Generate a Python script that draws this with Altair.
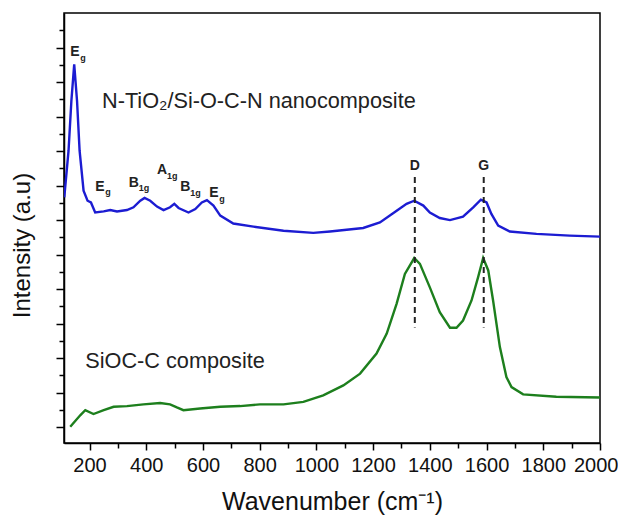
import altair as alt
import pandas as pd

# ---- data ----
blue_wn = [111, 126, 136, 146, 156, 165, 179, 193, 205, 220, 250, 273, 297, 332, 355, 379, 394, 414, 438, 461,
           484, 499, 514, 549, 573, 596, 614, 637, 661, 707, 778, 884, 989, 1048, 1165, 1224, 1283, 1318, 1345, 1377,
           1400, 1435, 1471, 1517, 1553, 1580, 1600, 1617, 1641, 1682, 1776, 1893, 2000]
blue_y = [6.66, 8.01, 9.45, 10.51, 9.45, 8.01, 6.85, 6.56, 6.51, 6.22, 6.25, 6.29, 6.25, 6.29, 6.37, 6.56, 6.64, 6.56, 6.39, 6.29,
          6.37, 6.47, 6.35, 6.22, 6.32, 6.51, 6.58, 6.42, 6.13, 5.90, 5.81, 5.69, 5.63, 5.67, 5.77, 5.93, 6.27, 6.47, 6.56, 6.42,
          6.22, 6.06, 6.00, 6.10, 6.37, 6.59, 6.51, 6.18, 5.84, 5.67, 5.60, 5.55, 5.52]

green_wn = [132, 168, 185, 214, 250, 285, 332, 390, 449, 484, 508, 531, 590, 661, 731, 801, 884, 954, 1024, 1095,
            1154, 1212, 1248, 1283, 1312, 1345, 1365, 1400, 1435, 1471, 1494, 1517, 1547, 1570, 1588, 1606, 1623, 1647, 1670, 1688,
            1729, 1846, 2000]
green_y = [0.01, 0.35, 0.49, 0.38, 0.49, 0.59, 0.61, 0.66, 0.70, 0.66, 0.57, 0.49, 0.54, 0.59, 0.61, 0.66, 0.66, 0.73, 0.92, 1.21,
           1.55, 2.13, 2.71, 3.58, 4.44, 4.90, 4.73, 4.05, 3.33, 2.88, 2.88, 3.09, 3.67, 4.34, 4.90, 4.54, 3.67, 2.32, 1.45, 1.16,
           0.95, 0.88, 0.86]

series_names = ["N-TiO2/Si-O-C-N", "SiOC-C"]
sample_names = ["N-TiO₂/Si-O-C-N nanocomposite", "SiOC-C composite"]
sample_wn = [244, 185]
sample_y = [9.25, 1.70]

peak_main = ["E", "E", "B", "A", "B", "E"]
peak_sub = ["g", "g", "1g", "1g", "1g", "g"]
peak_wn = [132, 220, 338, 438, 520, 622]
peak_y = [10.75, 6.85, 6.97, 7.33, 6.83, 6.66]

band_names = ["D", "G"]
band_wn = [1347, 1590]
band_label_y = [7.46, 7.46]
band_top = [7.25, 7.25]
band_bottom = [2.89, 2.89]

x_major = [200, 400, 600, 800, 1000, 1200, 1400, 1600, 1800, 2000]
x_minor = [300, 500, 700, 900, 1100, 1300, 1500, 1700, 1900]
y_major = [0, 1, 2, 3, 4, 5, 6, 7, 8, 9, 10, 11]
y_minor = [0.5, 1.5, 2.5, 3.5, 4.5, 5.5, 6.5, 7.5, 8.5, 9.5, 10.5, 11.5]

BLUE = "#1c1cd2"
GREEN = "#1d7f1d"
FONT = "Liberation Sans"

lines = pd.DataFrame({
    "wn": blue_wn + green_wn,
    "I": blue_y + green_y,
    "s": [series_names[0]] * len(blue_wn) + [series_names[1]] * len(green_wn),
})
names_df = pd.DataFrame({"wn": sample_wn, "I": sample_y, "t": sample_names})
peaks_df = pd.DataFrame({"wn": peak_wn, "I": peak_y, "m": peak_main, "sub": peak_sub})
bands_df = pd.DataFrame({"wn": band_wn, "ly": band_label_y, "top": band_top, "bot": band_bottom, "t": band_names})

xs = alt.Scale(domain=[110, 2000], nice=False, zero=False)
ys = alt.Scale(domain=[-0.46, 12], nice=False, zero=False)

main = alt.Chart(lines).mark_line(strokeWidth=2.4, clip=True).encode(
    x=alt.X("wn:Q", scale=xs, axis=alt.Axis(
        orient="bottom", values=x_major, format="d", tickSize=7, labelFontSize=20, labelPadding=5,
        labelOverlap=False, labelFlush=True, labelFlushOffset=18,
        labelColor="#111", title="Wavenumber (cm⁻¹)", titleFontSize=25, titleFontWeight="normal",
        titleColor="#111", titleBaseline="alphabetic", titleY=66)),
    y=alt.Y("I:Q", scale=ys, axis=alt.Axis(
        orient="left", values=y_major, tickSize=8, labels=False,
        title="Intensity (a.u)", titleFontSize=24, titleFontWeight="normal", titleColor="#111",
        titleX=-30, titleY=232, titleAngle=270, titleAlign="center", titleBaseline="bottom")),
    color=alt.Color("s:N", scale=alt.Scale(domain=series_names, range=[BLUE, GREEN]), legend=None),
)

minor = alt.Chart(pd.DataFrame({"wn": [1000], "I": [5]})).mark_point(opacity=0).encode(
    x=alt.X("wn:Q", scale=xs, axis=alt.Axis(orient="bottom", values=x_minor, tickSize=5, labels=False,
                                             domain=False, title=None)),
    y=alt.Y("I:Q", scale=ys, axis=alt.Axis(orient="left", values=y_minor, tickSize=5, labels=False,
                                            domain=False, title=None)),
)

names = alt.Chart(names_df).mark_text(align="left", baseline="alphabetic", fontSize=21.7, font=FONT,
                                      color="#222").encode(
    x=alt.X("wn:Q", scale=xs, axis=None), y=alt.Y("I:Q", scale=ys, axis=None), text="t:N")

pk_main = alt.Chart(peaks_df).mark_text(align="left", baseline="alphabetic", fontSize=14, fontWeight="bold",
                                        font=FONT, color="#222").encode(
    x=alt.X("wn:Q", scale=xs, axis=None), y=alt.Y("I:Q", scale=ys, axis=None), text="m:N")

pk_sub = alt.Chart(peaks_df).mark_text(align="left", baseline="alphabetic", fontSize=9, fontWeight="bold",
                                       font=FONT, color="#222", dx=10, dy=4.5).encode(
    x=alt.X("wn:Q", scale=xs, axis=None), y=alt.Y("I:Q", scale=ys, axis=None), text="sub:N")

band_rules = alt.Chart(bands_df).mark_rule(strokeDash=[6, 4], strokeWidth=2, color="#222").encode(
    x=alt.X("wn:Q", scale=xs, axis=None), y=alt.Y("top:Q", scale=ys, axis=None), y2="bot:Q")

band_text = alt.Chart(bands_df).mark_text(align="center", baseline="alphabetic", fontSize=14, fontWeight="bold",
                                          font=FONT, color="#222").encode(
    x=alt.X("wn:Q", scale=xs, axis=None), y=alt.Y("ly:Q", scale=ys, axis=None), text="t:N")

chart = alt.layer(main, minor, band_rules, names, pk_main, pk_sub, band_text).resolve_axis(
    x="independent", y="independent"
).properties(
    width=536, height=430,
    autosize=alt.AutoSizeParams(type="none"),
    padding={"left": 56, "top": 5, "right": 18, "bottom": 72},
).configure_view(
    stroke="black", strokeWidth=1.5
).configure_axis(
    grid=False, domainColor="black", domainWidth=1.5, tickColor="black", tickWidth=1.5,
    labelFont=FONT, titleFont=FONT
)

chart.save("out.html", embed_options={"renderer": "svg", "actions": False})
